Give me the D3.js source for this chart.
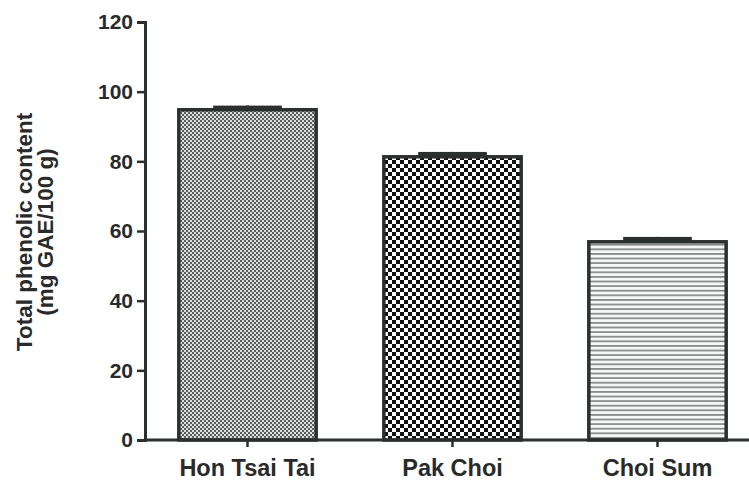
<!DOCTYPE html>
<html>
<head>
<meta charset="utf-8">
<script src="https://cdn.jsdelivr.net/npm/d3@7"></script>
<style>
  html, body { margin: 0; padding: 0; background: #fff; }
  svg { display: block; font-family: "Liberation Sans", Arial, sans-serif; }
</style>
</head>
<body>
<svg id="chart" width="749" height="483"></svg>
<script>
// Total phenolic content of three Brassica vegetables (mean ± error)
const categories = ["Hon Tsai Tai", "Pak Choi", "Choi Sum"];
const means = [94.8, 81.3, 56.9];
const errors = [1.2, 1.4, 1.4];
const yTicks = [0, 20, 40, 60, 80, 100, 120];
const patterns = ["fineChecker", "coarseChecker", "hLines"];

const svg = d3.select("#chart");
const ink = "#2b2f2d";
const textInk = "#2a2a2a";

const margin = { left: 145, right: -11, top: 22, bottom: 43 };
const W = 749, H = 483;

const x = d3.scaleBand()
  .domain(categories)
  .range([margin.left, W - margin.right])
  .paddingInner(0.33)
  .paddingOuter(0.165);

const y = d3.scaleLinear()
  .domain([0, 120])
  .range([H - margin.bottom, margin.top]);

// Fill patterns
const defs = svg.append("defs");
const p1 = defs.append("pattern").attr("id", "fineChecker")
  .attr("patternUnits", "userSpaceOnUse").attr("width", 4).attr("height", 4);
p1.append("rect").attr("width", 4).attr("height", 4).attr("fill", "#dcdedd");
p1.append("rect").attr("width", 2).attr("height", 2).attr("fill", "#5a5e5c");
p1.append("rect").attr("x", 2).attr("y", 2).attr("width", 2).attr("height", 2).attr("fill", "#5a5e5c");

const p2 = defs.append("pattern").attr("id", "coarseChecker")
  .attr("patternUnits", "userSpaceOnUse").attr("width", 8).attr("height", 8);
p2.append("rect").attr("width", 8).attr("height", 8).attr("fill", "#ffffff");
p2.append("rect").attr("width", 4).attr("height", 4).attr("fill", "#111");
p2.append("rect").attr("x", 4).attr("y", 4).attr("width", 4).attr("height", 4).attr("fill", "#111");

const p3 = defs.append("pattern").attr("id", "hLines")
  .attr("patternUnits", "userSpaceOnUse").attr("width", 8).attr("height", 4.6);
p3.append("rect").attr("width", 8).attr("height", 4.6).attr("fill", "#f6f8f8");
p3.append("rect").attr("y", 0).attr("width", 8).attr("height", 1.8).attr("fill", "#8a8d8c");

// Bars
svg.append("g").selectAll("rect")
  .data(categories)
  .join("rect")
  .attr("x", d => x(d))
  .attr("y", (d, i) => y(means[i]))
  .attr("width", x.bandwidth())
  .attr("height", (d, i) => y(0) - y(means[i]))
  .attr("fill", (d, i) => `url(#${patterns[i]})`)
  .attr("stroke", ink)
  .attr("stroke-width", 3.5);

// Error bars (upper only)
const eb = svg.append("g");
categories.forEach((c, i) => {
  const cx = x(c) + x.bandwidth() / 2;
  const capW = x.bandwidth() * 0.5;
  eb.append("line")
    .attr("x1", cx).attr("x2", cx)
    .attr("y1", y(means[i])).attr("y2", y(means[i] + errors[i]))
    .attr("stroke", ink).attr("stroke-width", 3);
  eb.append("rect")
    .attr("x", cx - capW / 2)
    .attr("y", y(means[i] + errors[i]))
    .attr("width", capW)
    .attr("height", y(means[i]) - y(means[i] + errors[i]))
    .attr("fill", ink);
});

// Axes
const yAxis = svg.append("g")
  .attr("transform", `translate(${margin.left},0)`)
  .call(d3.axisLeft(y).tickValues(yTicks).tickSize(8).tickPadding(4));
const xAxis = svg.append("g")
  .attr("transform", `translate(0,${y(0)})`)
  .call(d3.axisBottom(x).tickSize(7).tickPadding(12));

[yAxis, xAxis].forEach(g => {
  g.select(".domain").attr("stroke", ink).attr("stroke-width", 3);
  g.selectAll(".tick line").attr("stroke", ink).attr("stroke-width", 2.5);
  g.selectAll(".tick text")
    .attr("fill", textInk)
    .attr("font-weight", "bold")
    .attr("font-family", "'Liberation Sans', Arial, sans-serif");
});
yAxis.selectAll(".tick text").attr("font-size", 21);
xAxis.selectAll(".tick text").attr("font-size", 23.5);
xAxis.select(".domain").attr("d", `M${margin.left},0H${W + 5}`);

// Y axis title
const title = svg.append("text")
  .attr("transform", `translate(32,232) rotate(-90)`)
  .attr("text-anchor", "middle")
  .attr("font-size", 22.5)
  .attr("font-weight", "bold")
  .attr("fill", textInk);
title.append("tspan").attr("x", 0).attr("dy", 0).text("Total phenolic content");
title.append("tspan").attr("x", 0).attr("dy", 20.5).text("(mg GAE/100 g)");
</script>
</body>
</html>
